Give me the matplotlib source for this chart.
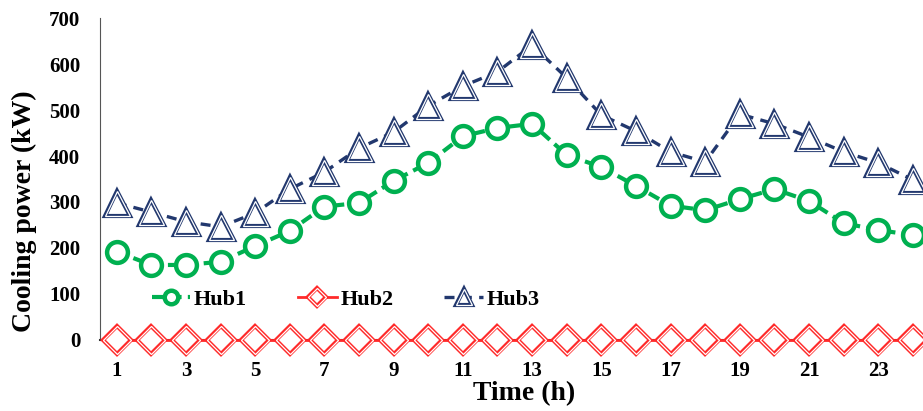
import matplotlib.pyplot as plt

hours = list(range(1, 25))
hub1 = [192, 163, 163, 170, 204, 237, 290, 298, 346, 385, 443, 461,
        470, 402, 376, 335, 292, 282, 306, 328, 302, 254, 239, 228]
hub2 = [0] * 24
hub3 = [298, 278, 257, 246, 276, 328, 365, 417, 452, 509, 552, 583,
        641, 570, 489, 454, 409, 387, 491, 470, 441, 409, 385, 348]
xticks = list(range(1, 24, 2))

plt.rcParams['font.family'] = ['Liberation Serif', 'DejaVu Serif']
plt.rcParams['font.weight'] = 'bold'

green = '#00b050'
red = '#ff2a2a'
navy = '#22386e'

fig = plt.figure(figsize=(9.23, 4.11), dpi=100)
ax = fig.add_axes([0.108, 0.173, 0.892, 0.783])

# hub1: dashed green with open circles
l1, = ax.plot(hours, hub1, color=green, lw=3, dashes=(2.8, 1.5),
              marker='o', ms=15, mfc='white', mec=green, mew=3.2, zorder=3)

# hub2 / hub3: markers drawn twice to get a double outline
l2, = ax.plot(hours, hub2, color=red, lw=2, marker='D', ms=14,
              mfc='white', mec=red, mew=3, zorder=4, clip_on=False)
l2w, = ax.plot(hours, hub2, ls='none', marker='D', ms=14,
               mfc='none', mec='white', mew=0.9, zorder=5, clip_on=False)
l3, = ax.plot(hours, hub3, color=navy, lw=2.4, dashes=(3, 2.2),
              marker='^', ms=18, mfc='white', mec=navy, mew=3, zorder=3)
l3w, = ax.plot(hours, hub3, ls='none', marker='^', ms=18,
               mfc='none', mec='white', mew=0.9, zorder=3)

ax.set_xlim(0.51, 24.29)
ax.set_ylim(0, 700)
ax.set_xticks(xticks)
ax.set_yticks(range(0, 701, 100))
ax.tick_params(length=0, labelsize=15)
ax.tick_params(axis='x', pad=15)
ax.tick_params(axis='y', pad=14)
for lab in ax.get_xticklabels() + ax.get_yticklabels():
    lab.set_fontweight('bold')

ax.spines['top'].set_visible(False)
ax.spines['right'].set_visible(False)
ax.spines['left'].set_color('#555555')
ax.spines['bottom'].set_color('#333333')
ax.spines['bottom'].set_linewidth(1.5)

ax.set_xlabel('Time (h)', fontsize=20, fontweight='bold')
ax.set_ylabel('Cooling power (kW)', fontsize=20, fontweight='bold')
ax.xaxis.set_label_coords(0.516, -0.128)
ax.yaxis.set_label_coords(-0.076, 0.40)

ax.legend([l1, (l2, l2w), (l3, l3w)], ['Hub1', 'Hub2', 'Hub3'],
          loc='center left', bbox_to_anchor=(0.063, 0.125), ncol=3,
          frameon=False, fontsize=16, handlelength=1.75, handletextpad=0.15,
          columnspacing=2.3, markerscale=0.65, borderaxespad=0, borderpad=0)

fig.savefig('out.png', dpi=100)
